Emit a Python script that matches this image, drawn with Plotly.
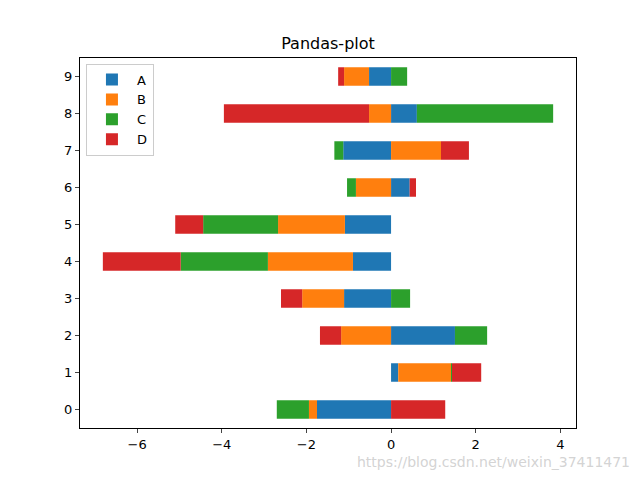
import plotly.graph_objects as go

# stacked horizontal bars
rows = list(range(10))
A = [-1.75, 0.17, 1.51, -1.11, -0.90, -1.09, 0.44, -1.13, 0.61, -0.52]
B = [-0.19, 1.25, -1.18, -0.99, -2.01, -1.58, -0.83, 1.18, -0.52, -0.59]
C = [-0.76, 0.02, 0.76, 0.45, -2.06, -1.77, -0.21, -0.21, 3.22, 0.38]
D = [1.28, 0.69, -0.50, -0.50, -1.84, -0.66, 0.15, 0.66, -3.43, -0.14]

series = {'A': A, 'B': B, 'C': C, 'D': D}
colors = {'A': '#1f77b4', 'B': '#ff7f0e', 'C': '#2ca02c', 'D': '#d62728'}

fig = go.Figure()
for name, vals in series.items():
    fig.add_trace(go.Bar(y=rows, x=vals, name=name, orientation='h', width=0.5,
                         marker=dict(color=colors[name], line=dict(width=0))))

# page body adds 8px, so margins are shifted to compensate
fig.update_layout(
    width=640, height=480,
    barmode='relative',
    paper_bgcolor='white', plot_bgcolor='white',
    margin=dict(l=72, r=72, t=50, b=60),
    font=dict(family='DejaVu Sans', size=13, color='black'),
    title=dict(text='Pandas-plot', x=0.5, xanchor='center', y=1 - 35 / 480, yanchor='middle',
               font=dict(size=16)),
    legend=dict(x=0.012, y=0.985, xanchor='left', yanchor='top', bordercolor='#cccccc', borderwidth=1,
                bgcolor='rgba(255,255,255,0.8)', font=dict(size=13), traceorder='normal',
                itemwidth=40),
    showlegend=True,
)
fig.update_xaxes(range=[-7.35, 4.37], tickvals=[-6, -4, -2, 0, 2, 4], ticks='outside', ticklen=4,
                 showgrid=False, zeroline=False, showline=True, linecolor='black', mirror=True)
fig.update_yaxes(range=[-0.5, 9.5], tickvals=rows, ticks='outside', ticklen=4,
                 showgrid=False, zeroline=False, showline=True, linecolor='black', mirror=True)

fig.add_annotation(text='https://blog.csdn.net/weixin_37411471', xref='paper', yref='paper',
                   x=1.113, y=-0.092, xanchor='right', yanchor='middle', showarrow=False,
                   font=dict(size=14, color='rgba(200,200,200,0.8)'))

fig.write_html('out.html')
